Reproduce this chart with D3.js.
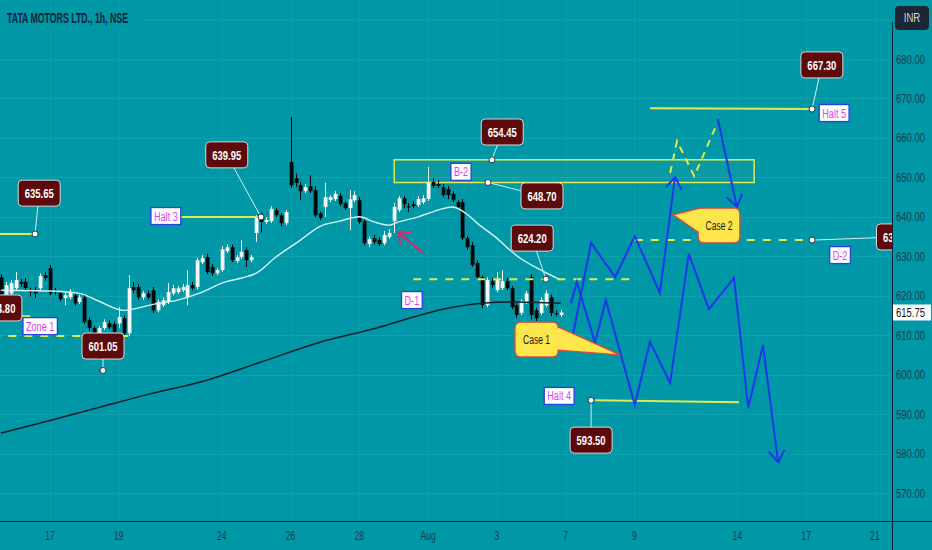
<!DOCTYPE html>
<html><head><meta charset="utf-8">
<script src="https://cdn.jsdelivr.net/npm/d3@7"></script>
<style>html,body{margin:0;padding:0;background:#0097a7;}svg{display:block}</style>
</head><body><svg id="c" width="932" height="550"></svg>
<script>
// ---------------- DATA ----------------
const title = "TATA MOTORS LTD., 1h, NSE";
const currency = "INR";
const lastPrice = 615.75;
// hourly candles, bar 0 = 13 Jul (5th hour) ... bar 114 = 4 Aug last hour
const opens = [624.7,620.1,620.6,621.9,623.5,623.5,621.4,621.4,621.9,625.2,627.0,621.4,620.6,619.4,619.6,620.1,618.4,619.6,613.8,611.8,610.0,611.8,613.0,612.8,613.0,614.3,610.5,622.2,622.2,619.6,620.6,621.4,616.3,617.6,618.4,620.6,620.9,621.4,619.6,622.7,622.2,628.5,629.8,627.3,625.7,626.5,631.3,632.3,628.8,629.8,631.6,629.0,635.9,640.0,638.7,638.9,641.7,640.4,638.4,653.9,649.8,648.0,646.5,647.8,646.8,640.9,642.5,644.2,644.5,645.3,643.5,642.2,644.2,644.2,638.9,633.1,634.6,634.1,633.3,634.9,638.9,641.7,644.7,642.7,643.2,643.0,643.7,644.5,648.8,648.3,647.5,647.0,645.8,643.7,643.7,634.6,632.8,628.3,624.7,617.6,623.7,621.4,621.9,623.7,621.9,617.6,615.6,618.4,624.7,616.3,615.6,617.6,619.6,615.6,615.1];
const highs = [625.5,623.5,624.0,626.0,624.2,624.5,622.0,622.2,625.6,626.0,627.8,622.0,621.2,620.8,621.6,620.8,620.3,620.3,614.5,612.3,612.3,614.0,613.8,613.5,617.1,615.0,625.2,623.5,623.0,621.2,621.4,622.2,619.0,619.6,623.2,622.7,622.5,623.0,626.5,623.5,629.6,630.3,630.6,628.0,627.0,632.6,633.0,633.0,630.3,634.1,632.3,630.3,640.4,641.0,639.9,642.7,642.3,641.0,641.7,665.3,651.0,648.8,648.3,650.5,647.8,641.4,648.6,645.5,646.5,646.0,644.0,646.8,646.5,645.0,639.4,635.0,635.4,634.8,636.4,636.9,643.5,645.3,645.3,643.5,644.0,645.3,645.5,652.6,649.8,649.3,648.3,647.8,646.5,644.2,644.5,635.1,633.6,629.0,625.2,624.7,624.5,626.0,626.5,624.5,622.5,618.1,619.1,621.2,625.5,617.0,619.6,621.4,620.3,616.3,616.4];
const lows = [618.0,619.0,620.0,621.4,622.2,621.2,619.8,619.5,621.4,623.8,620.1,620.3,618.6,617.6,619.1,617.5,617.9,612.8,611.0,609.8,609.5,611.3,611.5,610.0,611.8,609.8,609.8,620.6,619.0,619.0,619.0,615.6,615.8,617.1,617.9,620.1,620.4,620.9,617.6,621.4,621.6,628.0,625.5,625.0,625.2,626.0,630.8,628.5,628.3,629.3,627.3,628.5,633.6,636.0,638.2,638.4,639.9,637.5,637.9,647.3,647.6,644.2,646.0,646.0,639.9,639.2,640.0,643.7,644.0,642.7,641.7,636.6,643.7,638.2,632.8,632.3,633.0,632.6,632.8,634.4,635.9,641.2,642.2,641.2,642.2,642.5,643.2,644.0,647.3,647.3,645.0,644.5,643.7,642.0,634.1,631.6,627.3,624.2,616.8,617.1,622.0,620.9,621.4,621.4,616.6,614.3,615.1,617.9,614.0,613.6,615.1,617.1,614.8,614.8,614.6];
const closes = [618.9,622.7,623.2,624.0,623.0,621.9,620.9,620.6,625.0,624.5,620.6,620.9,619.1,620.1,620.9,618.1,619.6,613.3,611.8,610.5,611.8,613.3,612.0,610.8,614.6,610.5,621.9,621.4,619.6,620.6,619.6,616.3,618.4,618.9,620.9,621.9,621.9,622.2,622.7,621.9,629.0,629.5,626.0,625.7,626.5,631.8,632.3,629.0,629.8,631.1,629.0,629.8,639.7,638.7,639.2,642.0,640.4,638.4,641.2,648.0,648.6,646.5,647.5,646.5,640.4,639.7,645.0,645.0,645.8,643.2,642.2,644.5,645.5,638.7,633.3,634.4,633.6,633.1,635.4,635.9,642.5,644.7,643.2,642.5,642.7,644.5,644.7,648.6,647.8,647.8,645.5,645.5,644.2,642.5,634.6,632.3,627.8,624.7,617.6,624.0,622.7,624.0,623.7,621.9,617.1,615.1,618.6,620.6,615.1,614.3,618.9,620.6,615.6,615.4,615.75];
// moving averages (bar index, value)
const fastMaBars = [0,10,16,20,25,31,36,41,45,49,52,56,61,65,69,73,76,79,81,85,89,92,95,97,101,104,106,110,114];
const fastMaVals = [621.4,621.2,620.6,618.6,616.3,617.8,618.9,620.9,623.2,624.5,625.7,629.8,634.1,637.6,638.9,640.0,638.7,637.9,638.7,640.0,641.7,642.5,640.6,638.4,634.6,631.2,629.3,626.5,624.0];
const slowMaBars = [0,10,20,30,42,53,65,77,84,91,98,104,114];
const slowMaVals = [585.2,588.4,591.7,595.0,598.6,603.2,608.2,612.0,614.6,616.8,618.1,618.4,618.1];
// axes
const dateLabels = ["17","19","24","26","28","Aug","3","7","9","14","17","21"];
const dateBars = [10,24,45,59,73,87,101,115,129,150,164,178];
const priceTicks = [570,580,590,600,610,620,630,640,650,660,670,680];
const gridPrices = [570,580,590,600,610,620,630,640,650,660,670,680,690];
// drawings (in bar / price units)
const priceNotes = [
  {text:"635.65", bar:7.8,  price:646.0, dotBar:6.95,  dotPrice:635.65},
  {text:"614.80", bar:0.0,  price:616.9, dotBar:null,  dotPrice:null},
  {text:"601.05", bar:20.8, price:607.25,dotBar:20.8,  dotPrice:601.05},
  {text:"639.95", bar:46.0, price:655.7, dotBar:52.97, dotPrice:639.95},
  {text:"654.45", bar:102.1,price:661.5, dotBar:100.0, dotPrice:654.45},
  {text:"648.70", bar:110.2,price:645.3, dotBar:99.2,  dotPrice:648.70},
  {text:"624.20", bar:108.2,price:634.6, dotBar:111.0, dotPrice:624.20},
  {text:"593.50", bar:120.2,price:583.4, dotBar:120.2, dotPrice:593.50},
  {text:"667.30", bar:167.2,price:678.5, dotBar:165.2, dotPrice:667.30},
  {text:"634.10", bar:182.6,price:634.9, dotBar:165.2, dotPrice:634.10}
];
const tagNames = ["Halt 3","Zone 1","B-2","D-1","D-2","Halt 4","Halt 5"];
const tagBars = [33.6,8.0,93.7,83.7,170.9,113.7,169.7];
const tagPrices = [640.2,612.3,651.4,618.9,630.3,594.6,666.3];
const solidLevels = [[-5,635.65,6.95,635.65],[-5,614.8,6.0,614.8],[36.3,639.95,53.0,639.95],[121.0,593.5,150.3,593.0],[132.2,667.5,165.2,667.3]];
const dashedLevels = [[-5,609.8,27,609.8],[84,624.2,129.1,624.2],[129.1,634.1,165.2,634.1]];
const zoneBox = {bar1:80.1, bar2:153.4, top:654.45, bottom:648.70};
const case2Dashed = [[136.3,651.1],[137.7,659.2],[141.2,650.3],[145.8,663.5]];
const pathUp = [[116.1,607.5],[120.2,633.4],[125.1,624.7],[129.1,635.1],[134.2,620.7],[137.3,650.1]];
const pathDrop = [[146.0,664.8],[149.9,642.5]];
const pathDown = [[116.1,618.1],[117.3,623.5],[121.0,608.0],[123.2,618.9],[129.1,592.3],[132.2,608.3],[136.3,597.9],[140.1,630.6],[144.2,616.6],[149.3,624.5],[152.2,591.5],[155.2,607.5],[158.3,577.8]];
const pinkArrow = [[86.0,630.8],[81.1,635.9]];
const callouts = [
  {text:"Case 1", bar1:104.7, bar2:113.5, top:613.3, bottom:604.5, side:"right", baseA:612.1, baseB:606.2, tipBar:126.1, tipPrice:605.0},
  {text:"Case 2", bar1:142.0, bar2:150.5, top:642.2, bottom:633.4, side:"left",  baseA:642.2, baseB:636.1, tipBar:136.9, tipPrice:640.5}
];

// ---------------- DRAW ----------------
const W = 932, H = 550, plotR = 892, plotB = 521;
const FONT = '"Liberation Sans",Arial,sans-serif';
const BG = "#0097a7", YEL = "#e0ea4c", BLUE = "#1f37e8";
const x = d3.scaleLinear().domain([0, 178]).range([0.9, 874.9]);
const y = d3.scaleLinear().domain([570, 680]).range([493, 59]);

// condense a text element (horizontal squeeze like the narrow chart font)
function squeeze(sel, factor, target){
  const L = sel.node().getComputedTextLength();
  const t = target ? target : L*factor;
  sel.attr("textLength", t).attr("lengthAdjust","spacingAndGlyphs");
  return sel;
}

const svg = d3.select("#c");
svg.append("rect").attr("width", W).attr("height", H).attr("fill", BG);
svg.append("defs").append("clipPath").attr("id","plot").append("rect").attr("x",0).attr("y",0).attr("width",plotR).attr("height",plotB);

const grid = svg.append("g").attr("clip-path","url(#plot)");
grid.selectAll("line.h").data(gridPrices).join("line").attr("class","h")
  .attr("x1",0).attr("x2",plotR).attr("y1",d=>Math.round(y(d))+0.5).attr("y2",d=>Math.round(y(d))+0.5)
  .attr("stroke","rgba(255,255,255,0.07)");
grid.selectAll("line.v").data(dateBars).join("line").attr("class","v")
  .attr("x1",d=>Math.round(x(d))+0.5).attr("x2",d=>Math.round(x(d))+0.5).attr("y1",0).attr("y2",plotB)
  .attr("stroke","rgba(255,255,255,0.05)");

const g = svg.append("g").attr("clip-path","url(#plot)");

// zone rectangle
g.append("rect").attr("x",x(zoneBox.bar1)).attr("y",y(zoneBox.top))
  .attr("width",x(zoneBox.bar2)-x(zoneBox.bar1)).attr("height",y(zoneBox.bottom)-y(zoneBox.top))
  .attr("fill","rgba(224,234,76,0.04)").attr("stroke",YEL).attr("stroke-width",1.5);

// candles
const idx = d3.range(opens.length);
const up = i => closes[i] >= opens[i];
g.selectAll("line.wick").data(idx).join("line").attr("class","wick")
  .attr("x1",i=>Math.round(x(i))+0.5).attr("x2",i=>Math.round(x(i))+0.5)
  .attr("y1",i=>y(highs[i])).attr("y2",i=>y(lows[i]))
  .attr("stroke",i=>up(i)?"#f4f8f8":"#050505").attr("stroke-width",1);
g.selectAll("rect.body").data(idx).join("rect").attr("class","body")
  .attr("x",i=>Math.round(x(i))-1.3).attr("width",3.8)
  .attr("y",i=>y(Math.max(opens[i],closes[i])))
  .attr("height",i=>Math.max(1.2, Math.abs(y(opens[i])-y(closes[i]))))
  .attr("fill",i=>up(i)?"#f4f8f8":"#050505");

// moving averages
const maLine = d3.line().x(d=>x(d[0])).y(d=>y(d[1])).curve(d3.curveMonotoneX);
g.append("path").attr("d", maLine(slowMaBars.map((b,i)=>[b,slowMaVals[i]])))
  .attr("fill","none").attr("stroke","#142028").attr("stroke-width",1.5);
g.append("path").attr("d", maLine(fastMaBars.map((b,i)=>[b,fastMaVals[i]])))
  .attr("fill","none").attr("stroke","#d8f3f6").attr("stroke-width",1.4);

// horizontal drawings
g.selectAll("line.solid").data(solidLevels).join("line").attr("class","solid")
  .attr("x1",d=>x(d[0])).attr("y1",d=>y(d[1])).attr("x2",d=>x(d[2])).attr("y2",d=>y(d[3]))
  .attr("stroke",YEL).attr("stroke-width",2);
g.selectAll("line.dash").data(dashedLevels).join("line").attr("class","dash")
  .attr("x1",d=>x(d[0])).attr("y1",d=>y(d[1])).attr("x2",d=>x(d[2])).attr("y2",d=>y(d[3]))
  .attr("stroke",YEL).attr("stroke-width",2).attr("stroke-dasharray","8,8");

const straight = d3.line().x(d=>x(d[0])).y(d=>y(d[1]));
g.append("path").attr("d", straight(case2Dashed)).attr("fill","none")
  .attr("stroke",YEL).attr("stroke-width",2).attr("stroke-dasharray","7,6");

function arrowHead(pts, len, spread){
  const a = pts[pts.length-2], b = pts[pts.length-1];
  const x0=x(a[0]), y0=y(a[1]), x1=x(b[0]), y1=y(b[1]);
  const ang = Math.atan2(y0-y1, x0-x1);
  const w1 = [x1+len*Math.cos(ang+spread), y1+len*Math.sin(ang+spread)];
  const w2 = [x1+len*Math.cos(ang-spread), y1+len*Math.sin(ang-spread)];
  return `M${w1[0]},${w1[1]}L${x1},${y1}L${w2[0]},${w2[1]}`;
}
[pathUp, pathDrop, pathDown].forEach(p=>{
  g.append("path").attr("d", straight(p)).attr("fill","none").attr("stroke",BLUE)
    .attr("stroke-width",2).attr("stroke-linejoin","miter");
  g.append("path").attr("d", arrowHead(p, 14, 0.6)).attr("fill","none").attr("stroke",BLUE).attr("stroke-width",2);
});
g.append("path").attr("d", straight(pinkArrow)).attr("fill","none").attr("stroke","#e0246a").attr("stroke-width",2);
g.append("path").attr("d", arrowHead(pinkArrow, 13, 0.8)).attr("fill","none").attr("stroke","#e0246a").attr("stroke-width",2);

// callouts
callouts.forEach(c=>{
  const x1=x(c.bar1), x2=x(c.bar2), y1=y(c.top), y2=y(c.bottom), r=6;
  const ya=y(c.baseA), yb=y(c.baseB), tx=x(c.tipBar), ty=y(c.tipPrice);
  let d;
  if(c.side==="right"){
    d=`M${x1+r},${y1}H${x2-r}Q${x2},${y1} ${x2},${y1+r}V${ya}L${tx},${ty}L${x2},${yb}V${y2-r}Q${x2},${y2} ${x2-r},${y2}H${x1+r}Q${x1},${y2} ${x1},${y2-r}V${y1+r}Q${x1},${y1} ${x1+r},${y1}Z`;
  } else {
    d=`M${x1+r},${y1}H${x2-r}Q${x2},${y1} ${x2},${y1+r}V${y2-r}Q${x2},${y2} ${x2-r},${y2}H${x1+r}Q${x1},${y2} ${x1},${y2-r}V${yb}L${tx},${ty}L${x1+2},${ya}Z`;
  }
  g.append("path").attr("d",d).attr("fill","#fde64b").attr("stroke","#e0483a").attr("stroke-width",1.3);
  squeeze(g.append("text").attr("x",(x1+x2)/2).attr("y",(y1+y2)/2+4.5).attr("text-anchor","middle")
    .attr("font-family",FONT).attr("font-size",12.5).attr("fill","#1a1a1a").text(c.text), 0, 27);
});

// price notes: connectors, dots, boxes
priceNotes.forEach(n=>{
  if(n.dotBar!==null){
    g.append("line").attr("x1",x(n.dotBar)).attr("y1",y(n.dotPrice)).attr("x2",x(n.bar)).attr("y2",y(n.price))
      .attr("stroke","#cfeff3").attr("stroke-width",1);
  }
});
priceNotes.forEach(n=>{
  const cx=x(n.bar), cy=y(n.price), w=42, h=26;
  g.append("rect").attr("x",cx-w/2).attr("y",cy-h/2).attr("width",w).attr("height",h).attr("rx",4)
    .attr("fill","#5c0a0c").attr("stroke","#d9d9d9").attr("stroke-width",1);
  squeeze(g.append("text").attr("x",cx).attr("y",cy+5).attr("text-anchor","middle")
    .attr("font-family",FONT).attr("font-weight","bold").attr("font-size",13.5).attr("fill","#ffffff").text(n.text), 0, 29);
  if(n.dotBar!==null){
    g.append("circle").attr("cx",x(n.dotBar)).attr("cy",y(n.dotPrice)).attr("r",3)
      .attr("fill","#ffffff").attr("stroke","#2a3a40").attr("stroke-width",1);
  }
});

// tag labels
tagNames.forEach((t,i)=>{
  const cx=x(tagBars[i]), cy=y(tagPrices[i]);
  const tg=g.append("g");
  const txt=tg.append("text").attr("x",cx).attr("y",cy+4.5).attr("text-anchor","middle")
    .attr("font-family",FONT).attr("font-size",12).attr("fill","#e23ff0").text(t);
  squeeze(txt, 0.76);
  const tw=+txt.attr("textLength");
  tg.insert("rect","text").attr("x",cx-tw/2-3).attr("y",cy-8.5).attr("width",tw+6).attr("height",17)
    .attr("fill","#ffffff").attr("stroke","#2a3fe0").attr("stroke-width",1.3);
});

// title
svg.append("rect").attr("x",0).attr("y",8).attr("width",140).attr("height",20).attr("fill",BG);
squeeze(svg.append("text").attr("x",7).attr("y",22.5).attr("font-family",FONT).attr("font-weight","bold")
  .attr("font-size",14).attr("fill","#0b2238").text(title), 0, 121);

// axes
svg.append("line").attr("x1",plotR+0.5).attr("x2",plotR+0.5).attr("y1",22).attr("y2",H).attr("stroke","#0b2430").attr("stroke-width",1);
svg.append("line").attr("x1",0).attr("x2",W).attr("y1",plotB+0.5).attr("y2",plotB+0.5).attr("stroke","#0b2430").attr("stroke-width",1.2);
svg.selectAll("text.pt").data(priceTicks).join("text").attr("class","pt")
  .attr("x",896).attr("y",d=>y(d)+4.5).attr("font-family",FONT).attr("font-size",12)
  .attr("fill","#1b3a4c").text(d=>d.toFixed(2))
  .each(function(){ squeeze(d3.select(this), 0, 29); });
svg.selectAll("text.dt").data(dateLabels).join("text").attr("class","dt")
  .attr("x",(d,i)=>x(dateBars[i])).attr("y",540).attr("text-anchor","middle").attr("font-family",FONT)
  .attr("font-size",12).attr("fill","#1b3a4c").text(d=>d)
  .each(function(){ squeeze(d3.select(this), 0.72); });
// last price tag
svg.append("rect").attr("x",893).attr("y",y(lastPrice)-8).attr("width",38).attr("height",16).attr("fill","#ffffff");
squeeze(svg.append("text").attr("x",896).attr("y",y(lastPrice)+4.5).attr("font-family",FONT).attr("font-size",12)
  .attr("fill","#131722").text(lastPrice.toFixed(2)), 0, 29);
// currency box
svg.append("rect").attr("x",895).attr("y",6).attr("width",34).attr("height",24).attr("rx",4).attr("fill","#1c2733");
squeeze(svg.append("text").attr("x",912).attr("y",22).attr("text-anchor","middle").attr("font-family",FONT)
  .attr("font-size",12).attr("fill","#d1d4dc").text(currency), 0.8);
</script></body></html>
